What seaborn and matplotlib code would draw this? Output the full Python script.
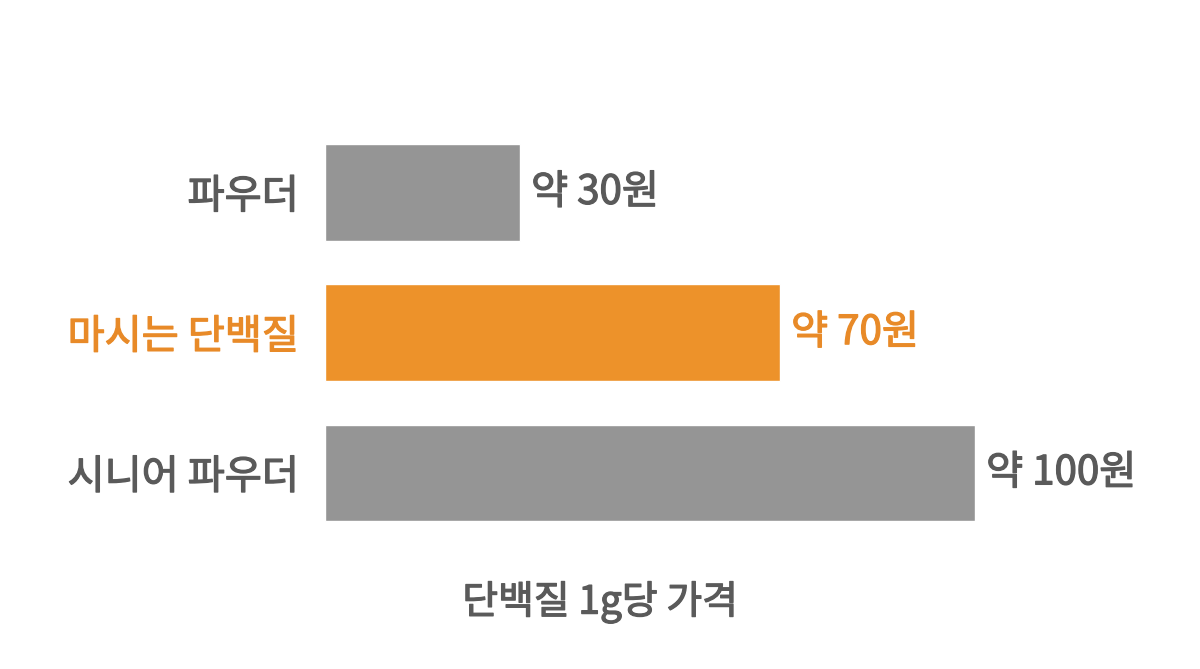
import matplotlib.patheffects as pe
import matplotlib.pyplot as plt
import pandas as pd
import seaborn as sns

categories = ["파우더", "마시는 단백질", "시니어 파우더"]
prices = [30, 70, 100]
value_labels = ["약 30원", "약 70원", "약 100원"]
axis_title = "단백질 1g당 가격"

GRAY = "#959595"
ORANGE = "#ED922A"
TEXT_GRAY = "#5a5a5a"
TEXT_ORANGE = "#E88A28"

sns.set_theme(style="white")
plt.rcParams["font.family"] = ["Noto Sans CJK KR", "DejaVu Sans"]

data = pd.DataFrame({"category": categories, "price": prices})
palette = {c: (ORANGE if c == "마시는 단백질" else GRAY) for c in categories}
text_colors = [TEXT_ORANGE if c == "마시는 단백질" else TEXT_GRAY for c in categories]


def thicken(color):
    # the reference font is a touch heavier than Noto's regular weight
    return [pe.withStroke(linewidth=0.9, foreground=color)]


fig = plt.figure(figsize=(12, 6.69), dpi=100)
ax = fig.add_axes([0.2708, 0.1883, 0.5417, 0.629])

sns.barplot(
    data=data, x="price", y="category", hue="category", palette=palette,
    order=categories, width=0.69, legend=False, ax=ax, saturation=1,
)

ax.set_xlim(0, 100)
ax.set_ylim(2.5, -0.5)
ax.set_xlabel("")
ax.set_ylabel("")
ax.set_xticks([])
sns.despine(ax=ax, left=True, bottom=True)
ax.tick_params(axis="y", length=0, pad=19)

for tick, color in zip(ax.get_yticklabels(), text_colors):
    tick.set_color(color)
    tick.set_fontsize(29)
    tick.set_path_effects(thicken(color))

for i, (val, label) in enumerate(zip(prices, value_labels)):
    ax.annotate(label, xy=(val, i), xytext=(8, 0), textcoords="offset points",
                va="center", ha="left", fontsize=29, color=text_colors[i],
                annotation_clip=False, path_effects=thicken(text_colors[i]))

fig.text(0.5, 0.10, axis_title, ha="center", va="center", fontsize=28,
         color=TEXT_GRAY, path_effects=thicken(TEXT_GRAY))

fig.savefig("out.png", dpi=100, facecolor="white")
